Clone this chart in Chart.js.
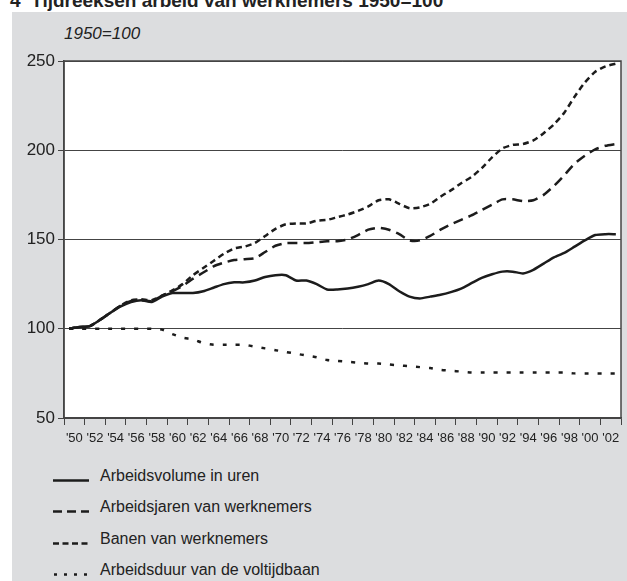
<!DOCTYPE html>
<html lang="nl">
<head>
  <meta charset="UTF-8">
  <title>Tijdreeksen arbeid van werknemers</title>
  <script src="https://cdn.jsdelivr.net/npm/chart.js"></script>
  <style>
    body {
      margin: 0;
      width: 627px;
      height: 581px;
      overflow: hidden;
      position: relative;
      background: #fff;
      font-family: "Liberation Sans", Arial, sans-serif;
      color: #222;
    }

    #title {
      position: absolute;
      left: 10px;
      top: -9px;
      font-size: 19px;
      font-weight: bold;
      line-height: 1;
      white-space: nowrap;
    }

    #panel {
      position: absolute;
      left: 12px;
      top: 12px;
      right: 0;
      bottom: 0;
      background: #dcdddf;
    }

    #unit {
      position: absolute;
      left: 64px;
      top: 25px;
      font-size: 17px;
      font-style: italic;
      line-height: 1;
    }

    #myChart {
      position: absolute;
      left: 0;
      top: 0;
    }

    .legend-item {
      position: absolute;
      left: 53px;
      height: 16px;
      display: flex;
      align-items: flex-start;
      font-size: 16px;
      line-height: 16px;
      white-space: nowrap;
    }

    .legend-item svg {
      width: 36px;
      height: 16px;
      margin-right: 11px;
    }
  </style>
</head>
<body>
  <div id="title">4&nbsp;&nbsp;Tijdreeksen arbeid van werknemers 1950=100</div>
  <div id="panel"></div>
  <div id="unit">1950=100</div>
  <canvas id="myChart" width="627" height="460"></canvas>

  <div class="legend-item" style="top: 468px;">
    <svg><line x1="0" y1="12.5" x2="36" y2="12.5" stroke="#1c1c1c" stroke-width="2.5"/></svg>
    <span>Arbeidsvolume in uren</span>
  </div>
  <div class="legend-item" style="top: 499px;">
    <svg><line x1="0" y1="12.5" x2="36" y2="12.5" stroke="#1c1c1c" stroke-width="2.5" stroke-dasharray="9 5"/></svg>
    <span>Arbeidsjaren van werknemers</span>
  </div>
  <div class="legend-item" style="top: 531px;">
    <svg><line x1="0" y1="12.5" x2="36" y2="12.5" stroke="#1c1c1c" stroke-width="2.5" stroke-dasharray="6 3.5"/></svg>
    <span>Banen van werknemers</span>
  </div>
  <div class="legend-item" style="top: 562px;">
    <svg><line x1="1" y1="12.5" x2="36" y2="12.5" stroke="#1c1c1c" stroke-width="2.5" stroke-dasharray="3 7"/></svg>
    <span>Arbeidsduur van de voltijdbaan</span>
  </div>

  <script>
    // Years and index values (1950=100)
    const years = [1950, 1951, 1952, 1953, 1954, 1955, 1956, 1957, 1958, 1959,
                   1960, 1961, 1962, 1963, 1964, 1965, 1966, 1967, 1968, 1969,
                   1970, 1971, 1972, 1973, 1974, 1975, 1976, 1977, 1978, 1979,
                   1980, 1981, 1982, 1983, 1984, 1985, 1986, 1987, 1988, 1989,
                   1990, 1991, 1992, 1993, 1994, 1995, 1996, 1997, 1998, 1999,
                   2000, 2001, 2002, 2003];

    const volumeUren = [100, 101, 101.5, 105, 109, 112.5, 115, 116, 115, 118,
                        120, 120, 120, 121, 123, 125, 126, 126, 127, 129,
                        130, 130, 127, 127, 125, 122, 122, 122.5, 123.5, 125,
                        127, 125, 121, 118, 117, 118, 119, 120.5, 122.5, 125.5,
                        128.5, 130.5, 132, 132, 131, 133, 136.5, 140, 142.5, 146,
                        149.5, 152.5, 153, 153];

    const arbeidsjaren = [100, 101, 101.5, 105, 109, 113, 115.5, 116, 115.5, 118.5,
                          121, 124, 128, 131.5, 135, 137, 138.5, 139, 139.5, 143,
                          146.5, 148, 148, 148, 148.5, 149, 149, 150, 152.5, 155.5,
                          156.5, 155.5, 153, 149.5, 149.5, 152, 155.5, 158.5, 161, 163.5,
                          166.5, 169.5, 172.5, 172.5, 171.5, 172, 175, 180, 186, 192.5,
                          197, 200.5, 202.5, 203.5];

    const banen = [100, 101, 101.5, 105, 109, 113, 116, 116.5, 116, 118.5,
                   121.5, 125, 130, 134, 138, 142, 145, 146, 148, 152,
                   156, 158.5, 159, 159, 160.5, 161, 162.5, 164, 166, 168.5,
                   172, 172.5, 170, 167.5, 168, 170, 174, 177.5, 181.5, 185,
                   190, 196, 201, 203, 203.5, 205.5, 209.5, 214.5, 221, 230,
                   238, 244, 247, 248.5];

    const arbeidsduur = [100, 100, 100, 100, 100, 100, 100, 100, 100, 99.5,
                         97, 95, 94, 92, 91, 91, 91, 91, 90, 89,
                         88, 87, 86, 85, 84, 82.5, 82, 81.5, 81, 80.5,
                         80.5, 80, 79.5, 79, 78.5, 78, 77, 76.5, 76, 75.5,
                         75.5, 75.5, 75.5, 75.5, 75.5, 75.5, 75.5, 75.5, 75.5, 75,
                         75, 75, 75, 75];

    const xTickLabels = ["'50", "'52", "'54", "'56", "'58", "'60", "'62", "'64", "'66",
                         "'68", "'70", "'72", "'74", "'76", "'78", "'80", "'82", "'84",
                         "'86", "'88", "'90", "'92", "'94", "'96", "'98", "'00", "'02"];

    const yTicks = [50, 100, 150, 200, 250];

    const lineColor = '#1c1c1c';
    const axisColor = '#444';

    function toPoints(values) {
      return values.map((v, i) => ({ x: years[i], y: v }));
    }

    // white plot area + frame around it
    const plotFrame = {
      id: 'plotFrame',
      beforeDraw(chart) {
        const { ctx, chartArea: a } = chart;
        ctx.save();
        ctx.fillStyle = '#fff';
        ctx.fillRect(a.left, a.top, a.width, a.height);
        ctx.restore();
      },
      afterDraw(chart) {
        const { ctx, chartArea: a } = chart;
        ctx.save();
        ctx.strokeStyle = axisColor;
        ctx.lineWidth = 1.5;
        ctx.strokeRect(a.left, a.top, a.width, a.height);
        ctx.restore();
      }
    };

    const ctx = document.getElementById('myChart').getContext('2d');
    const myChart = new Chart(ctx, {
      type: 'line',
      data: {
        datasets: [
          { label: 'Arbeidsvolume in uren', data: toPoints(volumeUren), borderDash: [] },
          { label: 'Arbeidsjaren van werknemers', data: toPoints(arbeidsjaren), borderDash: [10, 6] },
          { label: 'Banen van werknemers', data: toPoints(banen), borderDash: [6, 4] },
          { label: 'Arbeidsduur van de voltijdbaan', data: toPoints(arbeidsduur), borderDash: [4, 9] }
        ]
      },
      options: {
        responsive: false,
        animation: false,
        layout: { padding: { left: 0, top: 61, right: 4, bottom: 0 } },
        elements: {
          line: { borderColor: lineColor, borderWidth: 2.5, tension: 0.2, fill: false },
          point: { radius: 0 }
        },
        plugins: {
          legend: { display: false },
          tooltip: { enabled: false }
        },
        scales: {
          x: {
            type: 'linear',
            min: 1949.5,
            max: 2003.5,
            afterBuildTicks: scale => {
              // tick marks at every 2-year boundary
              scale.ticks = xTickLabels.concat(['']).map((_, i) => ({ value: 1949.5 + 2 * i }));
            },
            afterFit: scale => { scale.height = 42; },
            grid: { drawOnChartArea: false, color: axisColor, tickLength: 7, lineWidth: 1 },
            border: { color: axisColor, width: 1.5 },
            ticks: {
              color: '#222',
              font: { family: '"Liberation Sans", Arial, sans-serif', size: 13 },
              padding: 6,
              maxRotation: 0,
              autoSkip: false,
              labelOffset: 10.35,
              callback: (value, index) => xTickLabels[index] || ''
            }
          },
          y: {
            min: 50,
            max: 250,
            afterBuildTicks: scale => {
              scale.ticks = yTicks.map(v => ({ value: v }));
            },
            afterFit: scale => { scale.width = 64; },
            grid: { color: axisColor, tickLength: 6, lineWidth: 1 },
            border: { color: axisColor, width: 1.5 },
            ticks: {
              color: '#222',
              font: { family: '"Liberation Sans", Arial, sans-serif', size: 17 },
              padding: 3
            }
          }
        }
      },
      plugins: [plotFrame]
    });
  </script>
</body>
</html>
